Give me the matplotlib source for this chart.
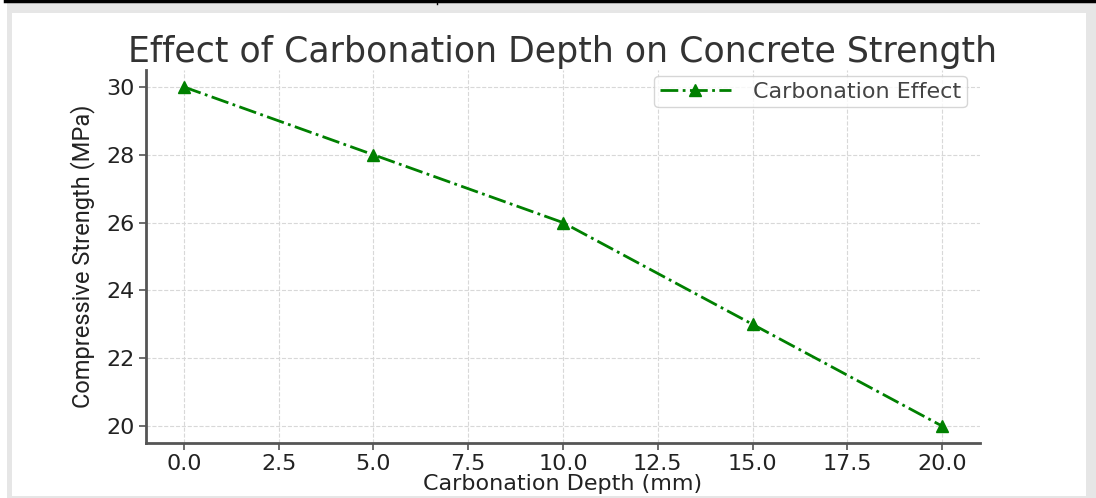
import matplotlib
matplotlib.use("Agg")
import matplotlib.pyplot as plt
from matplotlib.patches import Rectangle
from matplotlib.lines import Line2D

depth = [0, 5, 10, 15, 20]
strength = [30, 28, 26, 23, 20]
series_label = "Carbonation Effect"
title = "Effect of Carbonation Depth on Concrete Strength"
xlabel = "Carbonation Depth (mm)"
ylabel = "Compressive Strength (MPa)"
xticks = [0.0, 2.5, 5.0, 7.5, 10.0, 12.5, 15.0, 17.5, 20.0]
yticks = [20, 22, 24, 26, 28, 30]

plt.rcParams["font.family"] = ["DejaVu Sans"]

W, H = 1096, 498
fig = plt.figure(figsize=(W / 100, H / 100), dpi=100)
fig.patch.set_facecolor("white")

def fx(px):
    return px / W

def fy(py):
    return 1 - py / H

# gray frame and white panel
fig.patches.append(Rectangle((fx(7), 0), fx(W) - fx(7), fy(3), transform=fig.transFigure,
                             facecolor="#e6e6e6", edgecolor="none", zorder=-10))
fig.patches.append(Rectangle((fx(12), fy(496)), fx(1086) - fx(12), fy(13) - fy(496),
                             transform=fig.transFigure, facecolor="white", edgecolor="none", zorder=-9))
fig.lines.append(Line2D([fx(5), 1], [fy(1.5), fy(1.5)], transform=fig.transFigure,
                        color="black", lw=2.5))
fig.lines.append(Line2D([fx(437), fx(437)], [1, fy(4)], transform=fig.transFigure,
                        color="black", lw=1))

ax = fig.add_axes([fx(146), fy(443), fx(980) - fx(146), fy(70) - fy(443)])
ax.set_facecolor("white")
ax.plot(depth, strength, linestyle="-.", marker="^", color="green", lw=2,
        markersize=8, label=series_label)

ax.set_xticks(xticks)
ax.set_xticklabels([f"{t:.1f}" for t in xticks])
ax.set_yticks(yticks)
ax.set_xlim(-1, 21)
ax.set_ylim(19.5, 30.5)
ax.grid(True, linestyle="--", color="#d8d8d8", lw=0.8)
ax.set_axisbelow(True)
for s in ["top", "right"]:
    ax.spines[s].set_visible(False)
for s in ["left", "bottom"]:
    ax.spines[s].set_color("#555555")
    ax.spines[s].set_linewidth(2)
ax.tick_params(axis="both", labelsize=16, colors="#222222", length=5, width=1.2,
               color="#555555", pad=3)

ax.set_title(title, fontsize=25, color="#333333", pad=6)
ax.set_xlabel(xlabel, fontsize=16, color="#222222", labelpad=0)
ax.set_ylabel(ylabel, fontsize=17, color="#222222", labelpad=8,
              family=["Roboto", "DejaVu Sans"])

leg = ax.legend(loc="upper right", fontsize=16, frameon=True, borderpad=0.25,
                borderaxespad=0, handlelength=3.2, handletextpad=1.0,
                bbox_to_anchor=(0.984, 0.984))
leg.get_frame().set_edgecolor("#cccccc")
for t in leg.get_texts():
    t.set_color("#444444")

fig.savefig("out.png", dpi=100, facecolor=fig.get_facecolor())
